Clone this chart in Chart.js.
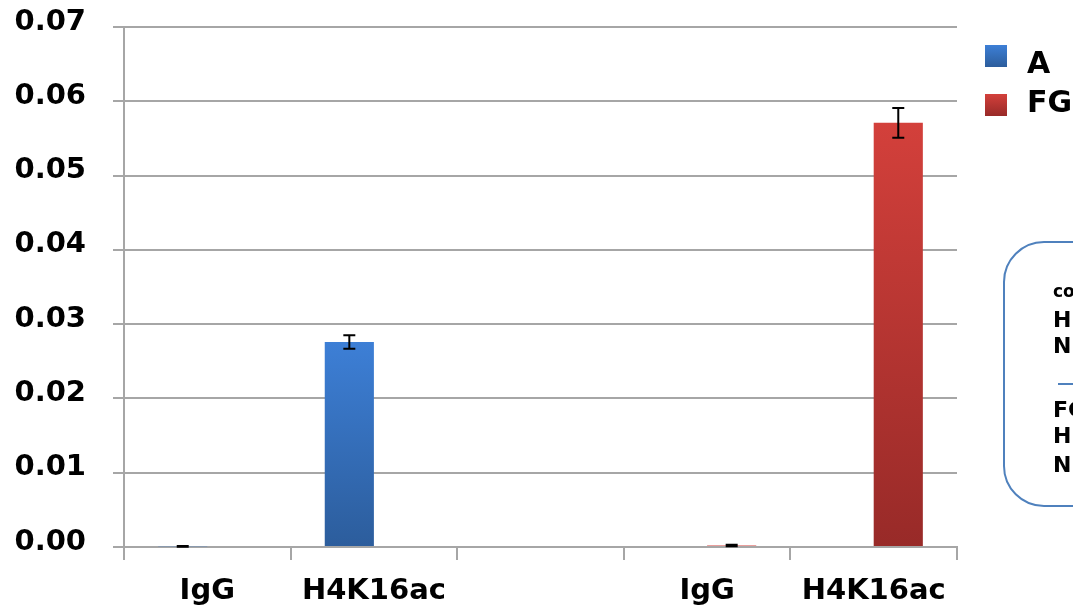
<!DOCTYPE html>
<html>
<head>
<meta charset="utf-8">
<script src="https://cdn.jsdelivr.net/npm/chart.js@4.4.0/dist/chart.umd.min.js"></script>
<style>
  html, body { margin: 0; padding: 0; background: #ffffff; }
  #wrap { width: 1073px; height: 611px; position: relative; }
</style>
</head>
<body>
<div id="wrap"><canvas id="chipChart"></canvas></div>
<script>
// Chart data
const categories = ['IgG', 'H4K16ac', '', 'IgG', 'H4K16ac'];
const seriesNames = ['A', 'FG'];
const valuesA = [0.0001, 0.0276, null, null, null];
const valuesFG = [null, null, null, 0.0002, 0.0571];
const errorsA = [0.00005, 0.0009, null, null, null];
const errorsFG = [null, null, null, 0.0001, 0.002];
const yTicks = [0, 0.01, 0.02, 0.03, 0.04, 0.05, 0.06, 0.07];

const FONT = '"DejaVu Sans", Verdana, sans-serif';
const GRID = '#a6a6a6';
const colorsA = ['#3d7fd6', '#2c5d9c'];
const colorsFG = ['#d3403b', '#982a28'];

// Vertical gradient for each bar, from its top down to zero
function barGradient(colors) {
    return function(ctx) {
        const chart = ctx.chart;
        const yScale = chart.scales.y;
        if (!yScale || ctx.type !== 'data' || ctx.raw == null) return colors[1];
        const top = yScale.getPixelForValue(ctx.raw);
        const bottom = yScale.getPixelForValue(0);
        if (!isFinite(top) || !isFinite(bottom) || top === bottom) return colors[1];
        const g = chart.ctx.createLinearGradient(0, top, 0, bottom);
        g.addColorStop(0, colors[0]);
        g.addColorStop(1, colors[1]);
        return g;
    };
}

// Error bars drawn over the bars
const errorBarPlugin = {
    id: 'errorBars',
    afterDatasetsDraw(chart) {
        const ctx = chart.ctx;
        const y = chart.scales.y;
        const errs = [errorsA, errorsFG];
        chart.data.datasets.forEach((ds, di) => {
            const meta = chart.getDatasetMeta(di);
            meta.data.forEach((bar, i) => {
                const v = ds.data[i];
                const e = errs[di][i];
                if (v == null || e == null) return;
                const yHi = y.getPixelForValue(v + e);
                const yLo = y.getPixelForValue(v - e);
                ctx.save();
                ctx.strokeStyle = '#000000';
                ctx.lineWidth = 2;
                ctx.beginPath();
                ctx.moveTo(bar.x, yHi);
                ctx.lineTo(bar.x, yLo);
                ctx.moveTo(bar.x - 6, yHi);
                ctx.lineTo(bar.x + 6, yHi);
                ctx.moveTo(bar.x - 6, yLo);
                ctx.lineTo(bar.x + 6, yLo);
                ctx.stroke();
                ctx.restore();
            });
        });
    }
};

// Legend and the note box on the right
const sidePlugin = {
    id: 'sideLegend',
    afterDraw(chart) {
        const ctx = chart.ctx;
        ctx.save();
        const items = [
            { label: seriesNames[0], colors: colorsA, top: 45, base: 73 },
            { label: seriesNames[1], colors: colorsFG, top: 94, base: 112 }
        ];
        items.forEach(it => {
            const g = ctx.createLinearGradient(0, it.top, 0, it.top + 22);
            g.addColorStop(0, it.colors[0]);
            g.addColorStop(1, it.colors[1]);
            ctx.fillStyle = g;
            ctx.fillRect(985, it.top, 22, 22);
            ctx.fillStyle = '#000000';
            ctx.font = 'bold 30px ' + FONT;
            ctx.textBaseline = 'alphabetic';
            ctx.textAlign = 'left';
            ctx.fillText(it.label, 1027, it.base);
        });

        // rounded note box (cut off by the right edge)
        ctx.strokeStyle = '#4f81bd';
        ctx.lineWidth = 2;
        ctx.beginPath();
        ctx.roundRect(1004, 242, 140, 264, 40);
        ctx.stroke();

        ctx.fillStyle = '#000000';
        ctx.font = 'bold 17px ' + FONT;
        ctx.fillText('co', 1053, 297);
        ctx.font = 'bold 22px ' + FONT;
        ctx.fillText('H', 1053, 327);
        ctx.fillText('N', 1053, 353);
        ctx.fillText('FG', 1053, 417);
        ctx.fillText('H', 1053, 443);
        ctx.fillText('N', 1053, 472);

        ctx.strokeStyle = '#4f81bd';
        ctx.beginPath();
        ctx.moveTo(1058, 384);
        ctx.lineTo(1073, 384);
        ctx.stroke();
        ctx.restore();
    }
};

new Chart(document.getElementById('chipChart'), {
    type: 'bar',
    data: {
        labels: categories,
        datasets: [
            {
                label: seriesNames[0],
                data: valuesA,
                backgroundColor: barGradient(colorsA),
                categoryPercentage: 0.59,
                barPercentage: 1.0
            },
            {
                label: seriesNames[1],
                data: valuesFG,
                backgroundColor: barGradient(colorsFG),
                categoryPercentage: 0.59,
                barPercentage: 1.0
            }
        ]
    },
    options: {
        responsive: true,
        maintainAspectRatio: false,
        animation: false,
        layout: { padding: { left: 0, right: 116, top: 27, bottom: 0 } },
        plugins: {
            legend: { display: false },
            tooltip: { enabled: false }
        },
        scales: {
            x: {
                grid: {
                    offset: true,
                    drawOnChartArea: false,
                    drawTicks: true,
                    tickLength: 13,
                    color: GRID,
                    lineWidth: 2
                },
                border: { color: GRID, width: 2 },
                ticks: {
                    color: '#000000',
                    font: { family: FONT, size: 29, weight: 'bold' },
                    padding: 14,
                    maxRotation: 0,
                    autoSkip: false
                },
                afterFit(scale) { scale.height = 64; }
            },
            y: {
                min: 0,
                max: 0.07,
                afterBuildTicks(scale) {
                    scale.ticks = yTicks.map(v => ({ value: v }));
                },
                grid: {
                    color: GRID,
                    lineWidth: 2,
                    tickLength: 11
                },
                border: { color: GRID, width: 2 },
                ticks: {
                    color: '#000000',
                    font: { family: FONT, size: 29, weight: 'bold' },
                    padding: 27,
                    labelOffset: -5,
                    callback: v => Number(v).toFixed(2)
                },
                afterFit(scale) {
                    scale.width = 124;
                    scale.paddingTop = 0;
                    scale.paddingBottom = 0;
                }
            }
        }
    },
    plugins: [errorBarPlugin, sidePlugin]
});
</script>
</body>
</html>
